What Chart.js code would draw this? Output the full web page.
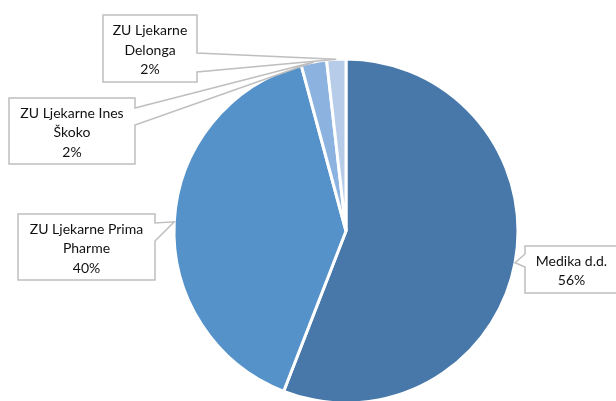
<!DOCTYPE html>
<html lang="hr">
<head>
    <meta charset="UTF-8">
    <title>Udio po ljekarnama</title>
    <script src="https://cdn.jsdelivr.net/npm/chart.js"></script>
    <style>
        html, body {
            margin: 0;
            padding: 0;
            background: #fff;
        }
        #chartContainer {
            position: relative;
            width: 616px;
            height: 401px;
        }
    </style>
</head>
<body>
    <div id="chartContainer">
        <canvas id="pieChart"></canvas>
    </div>

    <script>
        // podaci
        const kategorije = [
            ['Medika d.d.'],
            ['ZU Ljekarne Prima', 'Pharme'],
            ['ZU Ljekarne Ines', 'Škoko'],
            ['ZU Ljekarne', 'Delonga']
        ];
        const udjeli = [55.9, 39.9, 2.4, 1.8];
        const boje = ['#4778a9', '#5592c9', '#8cb3e0', '#b6cce9'];

        // okviri oznaka: x, y, sirina, visina, strana pokazivaca i njegov raspon po y
        const okviri = [
            { x: 525, y: 246, w: 93, h: 47, side: 'left', y1: 254, y2: 267 },
            { x: 18, y: 214, w: 137, h: 66, side: 'right', y1: 223, y2: 241 },
            { x: 9, y: 98, w: 126, h: 66, side: 'right', y1: 108, y2: 125 },
            { x: 103, y: 15, w: 94, h: 67, side: 'right', y1: 53, y2: 72 }
        ];

        const oznakePlugin = {
            id: 'oznake',
            afterDraw(chart) {
                const ctx = chart.ctx;
                const meta = chart.getDatasetMeta(0);
                const data = chart.data.datasets[0].data;
                const ukupno = data.reduce((a, b) => a + b, 0);
                meta.data.forEach((arc, i) => {
                    const p = arc.getProps(['x', 'y', 'startAngle', 'endAngle', 'outerRadius'], true);
                    const mid = (p.startAngle + p.endAngle) / 2;
                    const tx = p.x + Math.cos(mid) * p.outerRadius;
                    const ty = p.y + Math.sin(mid) * p.outerRadius;
                    const b = okviri[i];
                    const ex = b.side === 'left' ? b.x : b.x + b.w;

                    ctx.save();
                    // bijela pozadina okvira
                    ctx.fillStyle = '#ffffff';
                    ctx.fillRect(b.x, b.y, b.w, b.h);
                    // obrub s pokazivacem
                    ctx.strokeStyle = '#bfbfbf';
                    ctx.lineWidth = 1.5;
                    ctx.beginPath();
                    if (b.side === 'right') {
                        ctx.moveTo(b.x, b.y);
                        ctx.lineTo(b.x + b.w, b.y);
                        ctx.lineTo(ex, b.y1);
                        ctx.lineTo(tx, ty);
                        ctx.lineTo(ex, b.y2);
                        ctx.lineTo(b.x + b.w, b.y + b.h);
                        ctx.lineTo(b.x, b.y + b.h);
                        ctx.closePath();
                    } else {
                        ctx.moveTo(b.x + b.w, b.y);
                        ctx.lineTo(b.x, b.y);
                        ctx.lineTo(ex, b.y1);
                        ctx.lineTo(tx, ty);
                        ctx.lineTo(ex, b.y2);
                        ctx.lineTo(b.x, b.y + b.h);
                        ctx.lineTo(b.x + b.w, b.y + b.h);
                        ctx.closePath();
                    }
                    ctx.stroke();

                    // tekst
                    const linije = chart.data.labels[i].concat([Math.round(data[i] / ukupno * 100) + '%']);
                    ctx.fillStyle = '#111111';
                    ctx.font = '14px Lato, "Open Sans", sans-serif';
                    ctx.textAlign = 'center';
                    ctx.textBaseline = 'middle';
                    const lh = 19.5;
                    const cy = b.y + b.h / 2 + 1.5 - (linije.length - 1) * lh / 2;
                    linije.forEach((t, j) => {
                        ctx.fillText(t, b.x + b.w / 2, cy + j * lh);
                    });
                    ctx.restore();
                });
            }
        };

        const ctx = document.getElementById('pieChart').getContext('2d');
        new Chart(ctx, {
            type: 'pie',
            data: {
                labels: kategorije,
                datasets: [{
                    data: udjeli,
                    backgroundColor: boje,
                    borderColor: '#ffffff',
                    borderWidth: 3
                }]
            },
            options: {
                responsive: true,
                maintainAspectRatio: false,
                animation: false,
                radius: 172,
                layout: {
                    padding: { left: 76, right: 0, top: 61, bottom: 0 }
                },
                plugins: {
                    legend: { display: false },
                    tooltip: { enabled: false }
                }
            },
            plugins: [oznakePlugin]
        });
    </script>
</body>
</html>
